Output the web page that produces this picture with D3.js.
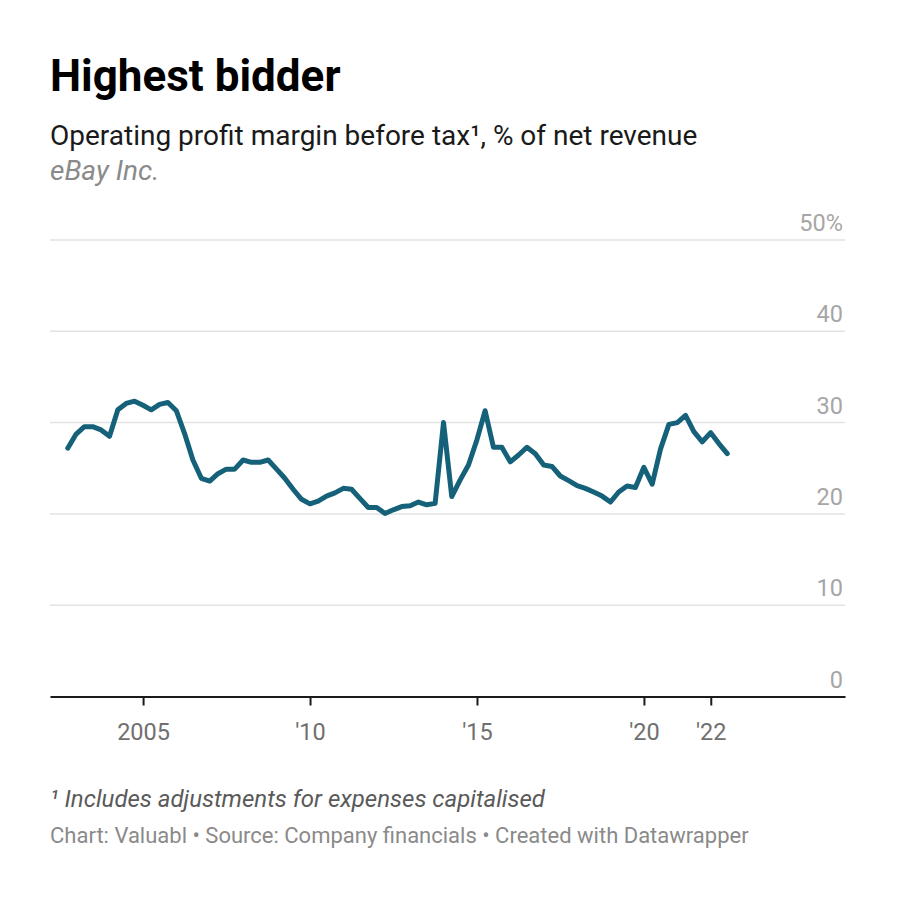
<!DOCTYPE html>
<html>
<head>
<meta charset="utf-8">
<script src="https://cdn.jsdelivr.net/npm/d3@7"></script>
<style>
  html, body { margin: 0; padding: 0; background: #fff; }
  svg { display: block; font-family: Roboto, "Noto Sans", sans-serif; }
</style>
</head>
<body>
<svg id="chart" width="900" height="900"></svg>
<script>
// ---- Data (quarter-end dates, operating margin %) ----
const quarterDates = [
  "2002-09-30","2002-12-31","2003-03-31","2003-06-30","2003-09-30","2003-12-31","2004-03-31","2004-06-30",
  "2004-09-30","2004-12-31","2005-03-31","2005-06-30","2005-09-30","2005-12-31","2006-03-31","2006-06-30",
  "2006-09-30","2006-12-31","2007-03-31","2007-06-30","2007-09-30","2007-12-31","2008-03-31","2008-06-30",
  "2008-09-30","2008-12-31","2009-03-31","2009-06-30","2009-09-30","2009-12-31","2010-03-31","2010-06-30",
  "2010-09-30","2010-12-31","2011-03-31","2011-06-30","2011-09-30","2011-12-31","2012-03-31","2012-06-30",
  "2012-09-30","2012-12-31","2013-03-31","2013-06-30","2013-09-30","2013-12-31","2014-03-31","2014-06-30",
  "2014-09-30","2014-12-31","2015-03-31","2015-06-30","2015-09-30","2015-12-31","2016-03-31","2016-06-30",
  "2016-09-30","2016-12-31","2017-03-31","2017-06-30","2017-09-30","2017-12-31","2018-03-31","2018-06-30",
  "2018-09-30","2018-12-31","2019-03-31","2019-06-30","2019-09-30","2019-12-31","2020-03-31","2020-06-30",
  "2020-09-30","2020-12-31","2021-03-31","2021-06-30","2021-09-30","2021-12-31","2022-03-31","2022-06-30"
];
const marginValues = [
  27.2, 28.75, 29.55, 29.55, 29.2, 28.5, 31.4, 32.1,
  32.35, 31.9, 31.4, 32.0, 32.2, 31.3, 28.8, 25.9,
  23.9, 23.6, 24.4, 24.9, 24.9, 25.9, 25.65, 25.65,
  25.9, 24.9, 23.9, 22.7, 21.6, 21.1, 21.4, 21.95,
  22.3, 22.8, 22.7, 21.7, 20.7, 20.7, 20.05, 20.45,
  20.8, 20.9, 21.3, 21.0, 21.15, 30.0, 21.9, 23.7,
  25.35, 28.1, 31.3, 27.3, 27.3, 25.7, 26.45, 27.3,
  26.6, 25.35, 25.2, 24.15, 23.65, 23.1, 22.8, 22.4,
  21.95, 21.3, 22.4, 23.05, 22.9, 25.1, 23.25, 27.1,
  29.8, 30.0, 30.8, 29.0, 27.9, 28.9, 27.7, 26.6
];
const yTickValues = [0, 10, 20, 30, 40, 50];
const yTickLabels = ["0", "10", "20", "30", "40", "50%"];
const xTickYears = [2005, 2010, 2015, 2020, 2022];
const xTickLabels = ["2005", "'10", "'15", "'20", "'22"];

const titleText = "Highest bidder";
const subtitleText = "Operating profit margin before tax¹, % of net revenue";
const companyText = "eBay Inc.";
const footnoteText = "¹ Includes adjustments for expenses capitalised";
const creditsText = "Chart: Valuabl • Source: Company financials • Created with Datawrapper";

// ---- Layout ----
const svg = d3.select("#chart");
const plotLeft = 50, plotRight = 845, plotTop = 240, plotBottom = 696.5;

const parse = d3.timeParse("%Y-%m-%d");
const data = quarterDates.map((d, i) => ({ date: parse(d), value: marginValues[i] }));

const x = d3.scaleTime()
  .domain([new Date(2002, 2, 20), new Date(2026, 0, 8)])
  .range([plotLeft, plotRight]);
const y = d3.scaleLinear().domain([0, 50]).range([plotBottom, plotTop]);

// Titles
svg.append("text").attr("x", 50).attr("y", 91)
  .attr("font-size", 44).attr("font-weight", 700).attr("fill", "#000")
  .text(titleText);
svg.append("text").attr("x", 50).attr("y", 145)
  .attr("font-size", 28).attr("fill", "#1a1a1a")
  .text(subtitleText);
svg.append("text").attr("x", 50).attr("y", 180)
  .attr("font-size", 28).attr("font-style", "italic").attr("fill", "#8a8a8a")
  .text(companyText);

// Gridlines
const grid = svg.append("g");
grid.selectAll("line").data(yTickValues.filter(v => v > 0)).enter().append("line")
  .attr("x1", plotLeft).attr("x2", plotRight)
  .attr("y1", d => y(d)).attr("y2", d => y(d))
  .attr("stroke", "#e2e2e2").attr("stroke-width", 1.5);

// Y labels
svg.append("g").selectAll("text").data(yTickValues).enter().append("text")
  .attr("x", 843).attr("y", d => y(d) - 9)
  .attr("text-anchor", "end").attr("font-size", 23.5).attr("fill", "#a6a6a6")
  .text((d, i) => yTickLabels[i]);

// X axis
const xAxis = d3.axisBottom(x)
  .tickValues(xTickYears.map(yr => new Date(yr, 0, 1)))
  .tickFormat((d, i) => xTickLabels[i])
  .tickSize(9).tickSizeOuter(0).tickPadding(18);
const gx = svg.append("g").attr("transform", `translate(0,${plotBottom})`).call(xAxis);
gx.select(".domain").attr("stroke", "#1a1a1a").attr("stroke-width", 2);
gx.selectAll(".tick line").attr("stroke", "#1a1a1a").attr("stroke-width", 2);
gx.selectAll(".tick text").attr("font-size", 23.5).attr("fill", "#707070")
  .attr("font-family", "Roboto, sans-serif");

// Line
const line = d3.line().x(d => x(d.date)).y(d => y(d.value));
svg.append("path").datum(data)
  .attr("d", line)
  .attr("fill", "none").attr("stroke", "#156179").attr("stroke-width", 5)
  .attr("stroke-linejoin", "round").attr("stroke-linecap", "round");

// Footer
svg.append("text").attr("x", 50).attr("y", 807)
  .attr("font-size", 24).attr("font-style", "italic").attr("fill", "#5a5a5a")
  .text(footnoteText);
svg.append("text").attr("x", 50).attr("y", 843)
  .attr("font-size", 22).attr("fill", "#8a8a8a")
  .text(creditsText);
</script>
</body>
</html>
